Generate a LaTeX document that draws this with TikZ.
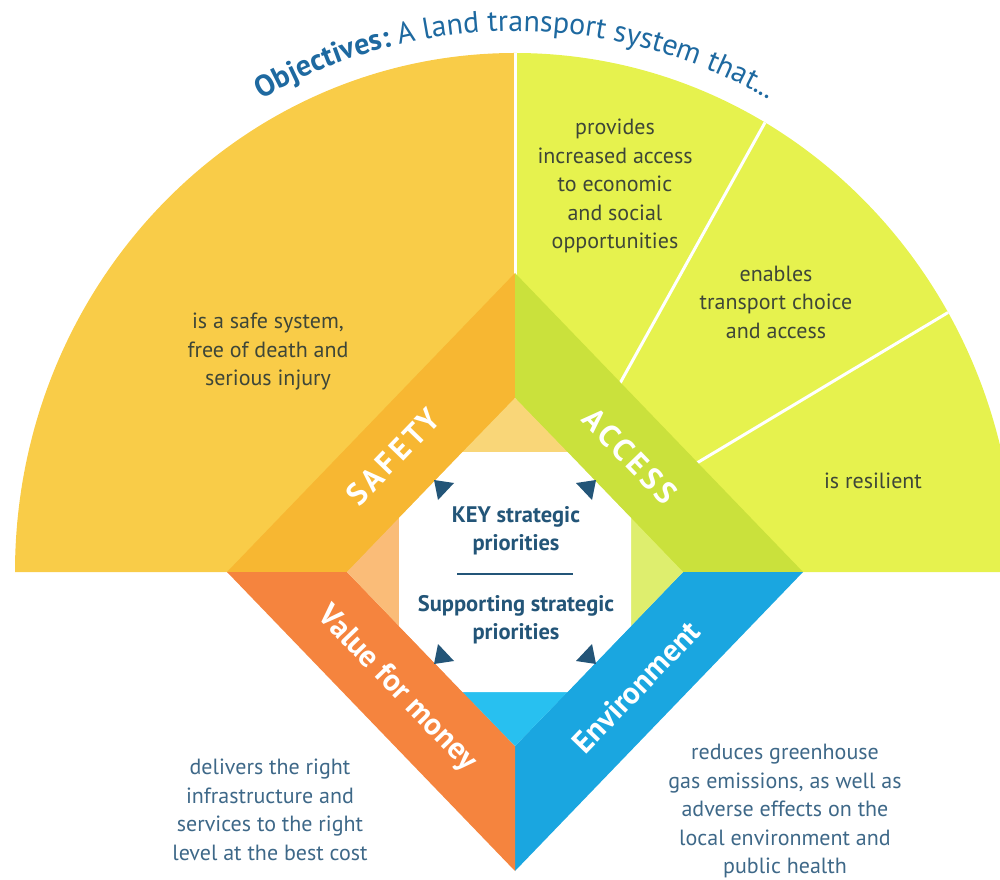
\documentclass[tikz,border=0pt]{standalone}
\usepackage{fontspec}
\setmainfont{PT Sans}
\usepackage{xcolor}
\usepackage{tikz}
\usetikzlibrary{decorations.text}

\definecolor{safetyFill}{RGB}{249,204,72}
\definecolor{safetyBand}{RGB}{247,183,50}
\definecolor{safetyTint}{RGB}{249,214,120}
\definecolor{accessFill}{RGB}{230,242,78}
\definecolor{accessBand}{RGB}{202,225,60}
\definecolor{accessTint}{RGB}{222,238,110}
\definecolor{valueBand}{RGB}{245,132,62}
\definecolor{valueTint}{RGB}{250,188,120}
\definecolor{envBand}{RGB}{26,166,224}
\definecolor{envTint}{RGB}{40,192,240}
\definecolor{keyBlue}{RGB}{35,85,120}
\definecolor{titleBlue}{RGB}{30,105,160}
\definecolor{goalGrey}{RGB}{62,70,56}
\definecolor{goalBlue}{RGB}{62,104,136}

\newcommand{\objfont}{\fontsize{30}{30}\selectfont}

\begin{document}
\begin{tikzpicture}[x=1pt,y=1pt,
    goal/.style={align=center,font=\fontsize{22}{28.5}\selectfont,text=goalGrey},
    bandlabel/.style={font=\fontsize{31}{31}\selectfont\bfseries,text=white},
    capslabel/.style={bandlabel,font=\fontsize{31}{31}\selectfont\bfseries\addfontfeatures{LetterSpace=12}},
    keytext/.style={align=center,font=\fontsize{22.5}{28}\selectfont\bfseries,text=keyBlue},
    divider/.style={white,line width=3pt},
    corner/.style={fill=keyBlue}]
	\useasboundingbox (0,0) rectangle (1000,879);
	%centre and diamond corners
	\coordinate (O) at (515,307);
	\coordinate (L) at (227,307);
	\coordinate (T) at (515,606);
	\coordinate (R) at (803,307);
	\coordinate (B) at (515,8);
	\coordinate (l) at (347,307);
	\coordinate (t) at (515,481);
	\coordinate (r) at (683,307);
	\coordinate (b) at (515,133);
	%left quarter
	\fill[safetyFill] (O) -- (15,307) arc[start angle=180,end angle=90,x radius=500,y radius=519] -- cycle;
	%right quarter
	\fill[accessFill] (O) -- (1015,307) arc[start angle=0,end angle=90,x radius=500,y radius=519] -- cycle;
	%dividers
	\draw[divider] (O) -- ++(90:500 and 519);
	\draw[divider] (O) -- ++(60:500 and 519);
	\draw[divider] (O) -- ++(30:500 and 519);
	%bands
	\fill[safetyBand] (L) -- (T) -- (t) -- (l) -- cycle;
	\fill[accessBand] (T) -- (R) -- (r) -- (t) -- cycle;
	\fill[envBand] (R) -- (B) -- (b) -- (r) -- cycle;
	\fill[valueBand] (B) -- (L) -- (l) -- (b) -- cycle;
	%inner tints
	\fill[safetyTint] (t) -- (567.4,427) -- (462.6,427) -- cycle;
	\fill[accessTint] (r) -- (631,253) -- (631,361) -- cycle;
	\fill[envTint] (b) -- (462.6,187) -- (567.4,187) -- cycle;
	\fill[valueTint] (l) -- (399,361) -- (399,253) -- cycle;
	%centre box
	\fill[white] (462.6,427) -- (567.4,427) -- (631,361) -- (631,253) -- (567.4,187) -- (462.6,187) -- (399,253) -- (399,361) -- cycle;
	%corner marks
	\fill[corner] (434,399) -- (454,396) -- (438,379) -- cycle;
	\fill[corner] (596,399) -- (576,396) -- (592,379) -- cycle;
	\fill[corner] (434,215) -- (454,218) -- (438,235) -- cycle;
	\fill[corner] (596,215) -- (576,218) -- (592,235) -- cycle;
	
	%title
	\path[decorate,decoration={text along path,text align=center,
	    text={|\objfont\bfseries\color{titleBlue}|Objectives: |\objfont\mdseries\color{titleBlue}|A land transport system that...}}]
	  (246.1,770.7) arc[start angle=121,end angle=59,x radius=522,y radius=541];
	
	%nodes
	\node[capslabel,rotate=46] (safetyLabel) at (393,422) {SAFETY};
	\node[capslabel,rotate=-46] (accessLabel) at (630,423) {ACCESS};
	\node[bandlabel,rotate=-46] (valueLabel) at (397,190) {Value for money};
	\node[bandlabel,rotate=46] (envLabel) at (636,192) {Environment};
	
	\node[keytext] (keyPri) at (516,348) {KEY strategic\\priorities};
	\draw[keyBlue,line width=2pt] (457,305) -- (573,305);
	\node[keytext] (supPri) at (516,259) {Supporting strategic\\priorities};
	
	\node[goal] (safetyGoal) at (268,527) {is a safe system,\\free of death and\\serious injury};
	\node[goal] (accessGoal) at (615,693) {provides\\increased access\\to economic\\and social\\opportunities};
	\node[goal] (choiceGoal) at (776,577) {enables\\transport choice\\and access};
	\node[goal] (resilientGoal) at (873,398) {is resilient};
	\node[goal,text=goalBlue] (valueGoal) at (270,69) {delivers the right\\infrastructure and\\services to the right\\level at the best cost};
	\node[goal,text=goalBlue] (envGoal) at (785,68) {reduces greenhouse\\gas emissions, as well as\\adverse effects on the\\local environment and\\public health};
\end{tikzpicture}
\end{document}
